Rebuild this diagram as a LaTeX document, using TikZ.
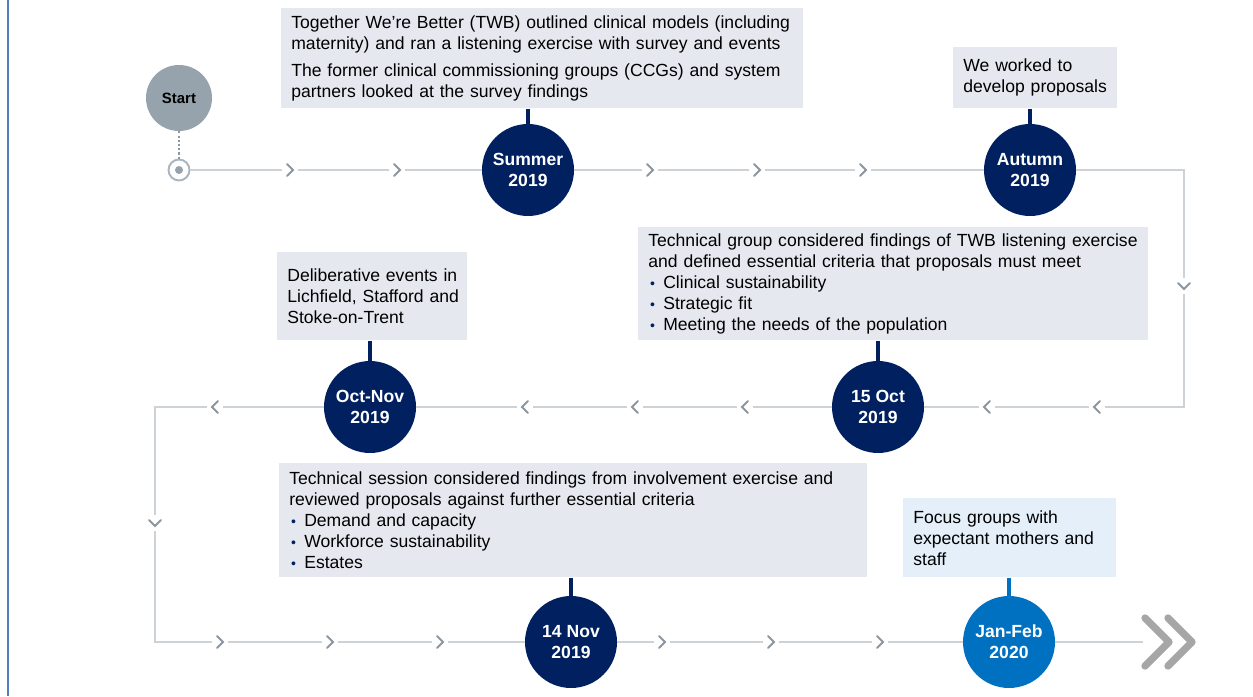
\documentclass[tikz,border=0pt]{standalone}
\usepackage{fontspec}
\setmainfont{Liberation Sans}

\definecolor{navy}{RGB}{0,32,96}
\definecolor{midblue}{RGB}{0,112,192}
\definecolor{edgeblue}{RGB}{79,129,189}
\definecolor{boxgray}{RGB}{229,232,239}
\definecolor{boxblue}{RGB}{228,239,249}
\definecolor{trackgray}{RGB}{205,210,215}
\definecolor{chevgray}{RGB}{140,150,160}
\definecolor{startgray}{RGB}{150,163,172}
\definecolor{endgray}{RGB}{166,166,166}

\newcommand{\tlb}{\makebox[8.5pt][l]{\hspace{1pt}\textcolor{navy}{\footnotesize\textbullet}}}

\tikzset{
  chev/.pic={
    \fill[white] (-8,-2) rectangle (8,2);
    \draw[chevgray, line width=1.1pt, line cap=round] (-3,-6) -- (3,0) -- (-3,6);
  }
}

\begin{document}
\begin{tikzpicture}[x=0.02cm, y=-0.02cm,
    milestone/.style={circle, fill=navy, text=white, minimum size=1.84cm, inner sep=0pt,
      align=center, font=\bfseries\fontsize{10}{12}\selectfont},
    infobox/.style={fill=boxgray, anchor=north west, inner xsep=0.2cm, inner ysep=0.1cm,
      align=left, font=\fontsize{10}{12}\selectfont},
    stub/.style={navy, line width=2pt},
    track/.style={trackgray, line width=1pt}]
  \useasboundingbox (0,0) rectangle (1253,696);
  \draw[edgeblue, line width=1.2pt] (8,0) -- (8,696);

  % start marker
  \node[circle, fill=startgray, minimum size=1.32cm, inner sep=0pt,
    font=\bfseries\fontsize{8.5}{10}\selectfont] (start) at (179,98) {Start};
  \node[circle, draw=startgray!80, line width=1.1pt, fill=white, minimum size=0.42cm, inner sep=0pt] (tgt) at (179,170) {};
  \fill[startgray] (tgt) circle (4);
  \draw[chevgray, line width=1.2pt, dash pattern=on 1.2pt off 1.2pt] (start.south) -- (tgt.north);

  % milestones
  \node[milestone] (summer) at (528,170) {Summer\\2019};
  \node[milestone] (autumn) at (1030,170) {Autumn\\2019};
  \node[milestone] (oct15) at (878,407) {15 Oct\\2019};
  \node[milestone] (octnov) at (370,407) {Oct-Nov\\2019};
  \node[milestone] (nov14) at (571,642) {14 Nov\\2019};
  \node[milestone, fill=midblue] (janfeb) at (1009,642) {Jan-Feb\\2020};

  \coordinate (cA) at (1184,170);
  \coordinate (cB) at (1184,407);
  \coordinate (cC) at (155,407);
  \coordinate (cD) at (155,642);
  \coordinate (tlend) at (1143,642);

  \draw[track] (tgt.east) -- (summer.west);
  \draw[track] (summer.east) -- (autumn.west);
  \draw[track] (autumn.east) -- (cA) -- (cB) -- (oct15.east);
  \draw[track] (oct15.west) -- (octnov.east);
  \draw[track] (octnov.west) -- (cC) -- (cD) -- (nov14.west);
  \draw[track] (nov14.east) -- (janfeb.west);
  \draw[track] (janfeb.east) -- (tlend);

  \foreach \x in {290,397,650,757,863} \pic at (\x,170) {chev};
  \foreach \x in {1097,987,745,635,525,215} \pic[rotate=180] at (\x,407) {chev};
  \foreach \x in {220,330,440,662,771,880} \pic at (\x,642) {chev};
  \pic[rotate=-90] at (1184,286) {chev};
  \pic[rotate=-90] at (155,523) {chev};

  \draw[endgray, line width=4.2pt, line cap=round, line join=round]
    (1145,618) -- (1169,642) -- (1145,666);
  \draw[endgray, line width=4.2pt, line cap=round, line join=round]
    (1168,618) -- (1192,642) -- (1168,666);

  % text boxes
  \node[infobox, text width=10.04cm, minimum height=2cm] (twb) at (281,8)
    {Together We’re Better (TWB) outlined clinical models (including\\
     maternity) and ran a listening exercise with survey and events\\[3pt]
     The former clinical commissioning groups (CCGs) and system\\
     partners looked at the survey findings};
  \node[infobox, text width=2.88cm, minimum height=1.22cm] (proposals) at (953,47)
    {We worked to\\develop proposals};
  \node[infobox, text width=9.8cm, minimum height=2.26cm] (criteria) at (638,227)
    {Technical group considered findings of TWB listening exercise\\
     and defined essential criteria that proposals must meet\\
     \tlb Clinical sustainability\\
     \tlb Strategic fit\\
     \tlb Meeting the needs of the population};
  \node[infobox, text width=3.4cm, minimum height=1.76cm] (events) at (277,252)
    {Deliberative events in\\\mbox{Lichfield, Stafford and}\\Stoke-on-Trent};
  \node[infobox, text width=11.36cm, minimum height=2.28cm] (session) at (279,463)
    {Technical session considered findings from involvement exercise and\\
     reviewed proposals against further essential criteria\\
     \tlb Demand and capacity\\
     \tlb Workforce sustainability\\
     \tlb Estates};
  \node[infobox, fill=boxblue, text width=3.86cm, minimum height=1.58cm] (focus) at (903,498)
    {Focus groups with\\expectant mothers and\\staff};

  \draw[stub] (summer.north |- twb.south) -- (summer.north);
  \draw[stub] (autumn.north |- proposals.south) -- (autumn.north);
  \draw[stub] (oct15.north |- criteria.south) -- (oct15.north);
  \draw[stub] (octnov.north |- events.south) -- (octnov.north);
  \draw[stub] (nov14.north |- session.south) -- (nov14.north);
  \draw[stub, midblue] (janfeb.north |- focus.south) -- (janfeb.north);
\end{tikzpicture}
\end{document}
